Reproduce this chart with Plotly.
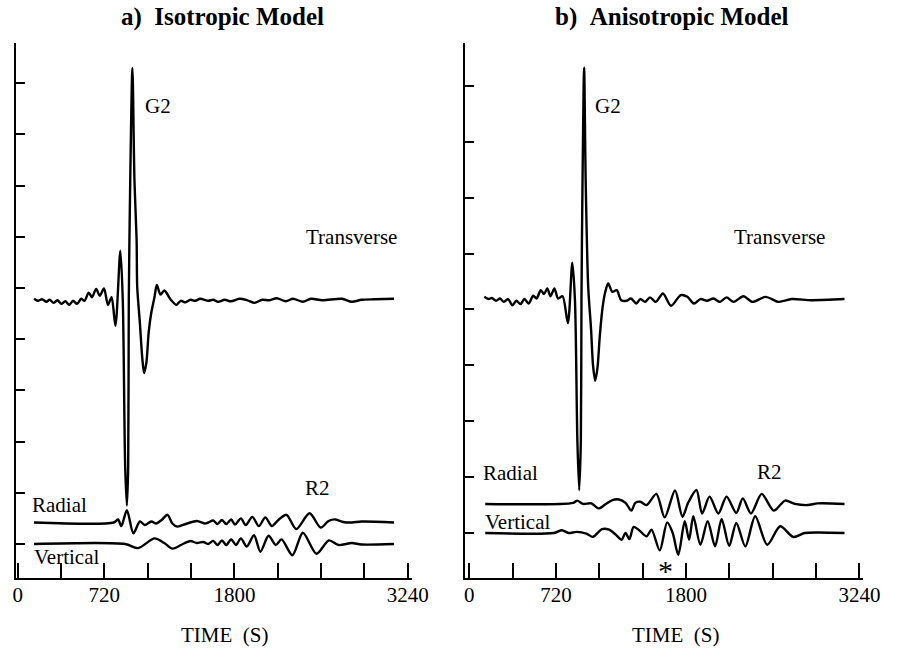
import plotly.graph_objects as go

W, H = 897, 650
SERIF = "Liberation Serif, Times New Roman, serif"

# ---------------------------------------------------------------------------
# Time axis (seconds)
TIME_TICKS = [0, 360, 720, 1080, 1440, 1800, 2160, 2520, 2880, 3240]
TIME_LABELS = ["0", "", "720", "", "", "1800", "", "", "", "3240"]

# ---------------------------------------------------------------------------
# a) Isotropic model — seismogram samples (time in s, amplitude in tick units)
iso_transverse_t = [136, 168, 203, 238, 266, 298, 330, 363, 395, 428, 460, 493, 528, 555,
                    590, 617, 652, 682, 717, 750, 780, 812, 853, 873, 893, 907, 918, 923,
                    935, 953, 970, 988, 993, 1015, 1034, 1050, 1069, 1088, 1110, 1137, 1156,
                    1186, 1218, 1272, 1318, 1354, 1394, 1435, 1475, 1516, 1583, 1624, 1665,
                    1719, 1773, 1841, 1908, 1968, 2030, 2087, 2152, 2227, 2287, 2369, 2436,
                    2531, 2693, 2775, 2856, 2964, 3126]
iso_transverse_a = [0.00, -0.04, -0.01, -0.06, -0.02, -0.08, -0.03, -0.10, -0.05, -0.12, -0.04,
                    -0.10, 0.00, -0.04, 0.12, 0.03, 0.19, 0.06, 0.20, -0.12, 0.03, -0.53, 0.94,
                    -0.02, -3.28, -4.04, -3.28, -0.02, 2.32, 4.51, 2.32, 1.15, 0.23, -0.47,
                    -1.13, -1.45, -1.25, -0.66, -0.27, 0.04, 0.27, 0.08, 0.16, -0.02, -0.12,
                    -0.04, -0.07, -0.02, -0.04, 0.00, -0.04, -0.02, -0.06, -0.02, -0.05, 0.00,
                    -0.03, -0.08, -0.02, -0.03, 0.01, -0.05, 0.00, -0.06, 0.00, -0.03, 0.00,
                    -0.06, -0.02, -0.01, 0.00]

iso_radial_t = [136, 798, 834, 861, 907, 961, 1015, 1056, 1110, 1151, 1196, 1245, 1285, 1326,
                1407, 1488, 1557, 1583, 1624, 1659, 1697, 1732, 1773, 1805, 1854, 1894, 1949,
                2003, 2057, 2111, 2166, 2233, 2314, 2424, 2517, 2582, 2639, 2704, 2777, 2856,
                3126]
iso_radial_a = [0.00, 0.00, 0.06, -0.07, 0.24, -0.21, 0.02, -0.05, 0.02, -0.02, 0.05, 0.15,
                -0.02, -0.08, -0.02, 0.03, -0.02, 0.00, 0.04, -0.03, 0.05, -0.03, 0.06, -0.04,
                0.08, -0.05, 0.11, -0.07, 0.10, -0.07, 0.05, 0.15, -0.13, 0.18, -0.10, 0.03,
                0.06, 0.01, 0.00, 0.02, 0.00]

iso_vertical_t = [136, 893, 1001, 1137, 1218, 1285, 1380, 1435, 1488, 1543, 1583, 1624, 1659,
                  1697, 1732, 1773, 1813, 1854, 1903, 1963, 2016, 2084, 2144, 2192, 2282, 2369,
                  2482, 2585, 2666, 2775, 2856, 3126]
iso_vertical_a = [0.00, 0.00, -0.08, 0.11, 0.02, -0.09, 0.01, 0.06, 0.02, 0.04, 0.00, 0.06,
                  -0.02, 0.07, -0.02, 0.09, -0.02, 0.11, -0.05, 0.17, -0.15, 0.16, -0.02, 0.09,
                  -0.22, 0.22, -0.19, 0.07, -0.02, 0.02, -0.01, 0.00]

iso_offsets = {"Transverse": 4.79, "Radial": 0.42, "Vertical": 0.0}

# ---------------------------------------------------------------------------
# b) Anisotropic model
ani_transverse_t = [124, 160, 187, 222, 254, 287, 322, 357, 390, 425, 457, 493, 530, 558, 593,
                    620, 647, 674, 706, 737, 774, 818, 855, 877, 897, 912, 926, 931, 940, 953,
                    966, 987, 1011, 1027, 1045, 1064, 1084, 1107, 1129, 1153, 1188, 1224, 1261,
                    1305, 1342, 1386, 1419, 1459, 1500, 1549, 1608, 1675, 1756, 1811, 1865,
                    1919, 1973, 2028, 2081, 2136, 2195, 2276, 2352, 2460, 2568, 2677, 2840,
                    3116]
ani_transverse_a = [0.03, -0.01, 0.01, -0.04, 0.00, -0.06, -0.01, -0.12, -0.04, -0.10, -0.01,
                    -0.09, 0.05, 0.00, 0.15, 0.08, 0.18, 0.04, 0.18, 0.00, 0.04, -0.44, 0.64,
                    -0.03, -2.53, -3.43, -2.53, -0.03, 2.12, 4.13, 2.12, 0.21, -0.56, -1.19,
                    -1.47, -1.24, -0.65, -0.15, 0.12, 0.27, 0.12, 0.15, -0.03, -0.04, 0.00,
                    -0.09, -0.01, -0.06, 0.02, -0.06, 0.09, -0.13, 0.06, 0.03, -0.09, -0.01,
                    -0.04, 0.00, -0.06, 0.02, -0.06, 0.04, -0.06, 0.03, -0.06, -0.01, -0.03,
                    -0.01]

ani_radial_t = [132, 863, 896, 944, 1013, 1074, 1134, 1188, 1242, 1297, 1346, 1378, 1419, 1472,
                1553, 1622, 1708, 1770, 1817, 1886, 1933, 1995, 2068, 2136, 2217, 2271, 2339,
                2428, 2528, 2623, 2704, 2812, 2893, 3116]
ani_radial_a = [0.00, 0.02, 0.06, 0.00, 0.01, -0.08, 0.00, 0.07, 0.08, 0.02, -0.12, 0.02, 0.04,
                -0.02, 0.18, -0.24, 0.24, -0.23, 0.02, 0.25, -0.17, 0.13, -0.17, 0.13, -0.16,
                0.10, -0.17, 0.18, -0.12, 0.06, 0.00, -0.02, 0.01, 0.00]

ani_vertical_t = [132, 701, 769, 823, 891, 972, 1026, 1102, 1161, 1216, 1264, 1297, 1329, 1364,
                  1405, 1472, 1513, 1581, 1643, 1689, 1735, 1789, 1825, 1860, 1919, 1979, 2041,
                  2095, 2158, 2217, 2292, 2374, 2474, 2582, 2690, 2785, 2893, 3116]
ani_vertical_a = [0.00, 0.00, 0.05, 0.00, 0.02, -0.01, -0.07, 0.07, 0.06, -0.03, -0.12, 0.00,
                  -0.11, 0.11, 0.06, -0.06, 0.06, -0.31, 0.19, 0.00, -0.39, 0.21, -0.12, 0.30,
                  -0.21, 0.21, -0.24, 0.25, -0.23, 0.18, -0.24, 0.30, -0.21, 0.12, -0.07, 0.00,
                  0.01, 0.00]

ani_offsets = {"Transverse": 4.195, "Radial": 0.52, "Vertical": 0.0}

# ---------------------------------------------------------------------------
fig = go.Figure()


def add_trace(t, a, offset, xaxis, yaxis, name):
    fig.add_trace(go.Scatter(
        x=t, y=[v + offset for v in a], mode="lines", name=name,
        line=dict(color="black", width=2.4, shape="spline", smoothing=0.8),
        xaxis=xaxis, yaxis=yaxis, showlegend=False, hoverinfo="skip"))


add_trace(iso_transverse_t, iso_transverse_a, iso_offsets["Transverse"], "x", "y", "Transverse")
add_trace(iso_radial_t, iso_radial_a, iso_offsets["Radial"], "x", "y", "Radial")
add_trace(iso_vertical_t, iso_vertical_a, iso_offsets["Vertical"], "x", "y", "Vertical")
add_trace(ani_transverse_t, ani_transverse_a, ani_offsets["Transverse"], "x2", "y2", "Transverse")
add_trace(ani_radial_t, ani_radial_a, ani_offsets["Radial"], "x2", "y2", "Radial")
add_trace(ani_vertical_t, ani_vertical_a, ani_offsets["Vertical"], "x2", "y2", "Vertical")


def px(x, y):
    return x / W, 1 - y / H


y_dom = [1 - 578 / H, 1 - 43 / H]

xaxis_style = dict(
    showline=True, linecolor="black", linewidth=2, mirror=False,
    showgrid=False, zeroline=False,
    ticks="inside", ticklen=15, tickwidth=2, tickcolor="black",
    tickvals=TIME_TICKS, ticktext=TIME_LABELS,
    tickfont=dict(family=SERIF, size=21, color="black"),
    ticklabelstandoff=-3, fixedrange=True,
)
yaxis_style = dict(
    showline=True, linecolor="black", linewidth=2, mirror=False,
    showgrid=False, zeroline=False,
    ticks="inside", ticklen=9, tickwidth=2, tickcolor="black",
    showticklabels=False, fixedrange=True,
)

fig.update_layout(
    width=W, height=H,
    margin=dict(l=0, r=0, t=0, b=0),
    paper_bgcolor="white", plot_bgcolor="white",
    xaxis=dict(domain=[13 / W, 418 / W], range=[-16.2, 3272.5], anchor="y", **xaxis_style),
    yaxis=dict(domain=y_dom, range=[-0.664, 9.785], anchor="x",
               tickvals=list(range(10)), **yaxis_style),
    xaxis2=dict(domain=[473 / W, 880 / W], range=[-32.5, 3272.5], anchor="y2", **xaxis_style),
    yaxis2=dict(domain=y_dom, range=[-0.805, 8.766], anchor="x2",
                tickvals=list(range(9)), **yaxis_style),
)

# Text labels (pixel centres on the 897x650 page)
labels = [
    ("<b>a)\u00a0\u00a0Isotropic Model</b>", 225, 17, 25),
    ("<b>b)\u00a0\u00a0Anisotropic Model</b>", 684, 17, 25),
    ("G2", 158.5, 106, 21), ("G2", 619, 106, 21),
    ("Transverse", 356, 237, 21), ("Transverse", 794, 237, 21),
    ("Radial", 57.5, 505, 21), ("Radial", 519, 473, 21),
    ("Vertical", 65, 557, 21), ("Vertical", 526, 522, 21),
    ("R2", 322, 488, 21), ("R2", 783.5, 472, 21),
    ("*", 678, 570, 30),
    ("TIME\u00a0\u00a0(S)", 227, 635, 21), ("TIME\u00a0\u00a0(S)", 688, 635, 21),
]
for text, x, y, size in labels:
    xp, yp = px(x, y)
    fig.add_annotation(text=text, x=xp, y=yp, xref="paper", yref="paper",
                       xanchor="center", yanchor="middle", showarrow=False,
                       font=dict(family=SERIF, size=size, color="black"))

fig.write_html("out.html")
